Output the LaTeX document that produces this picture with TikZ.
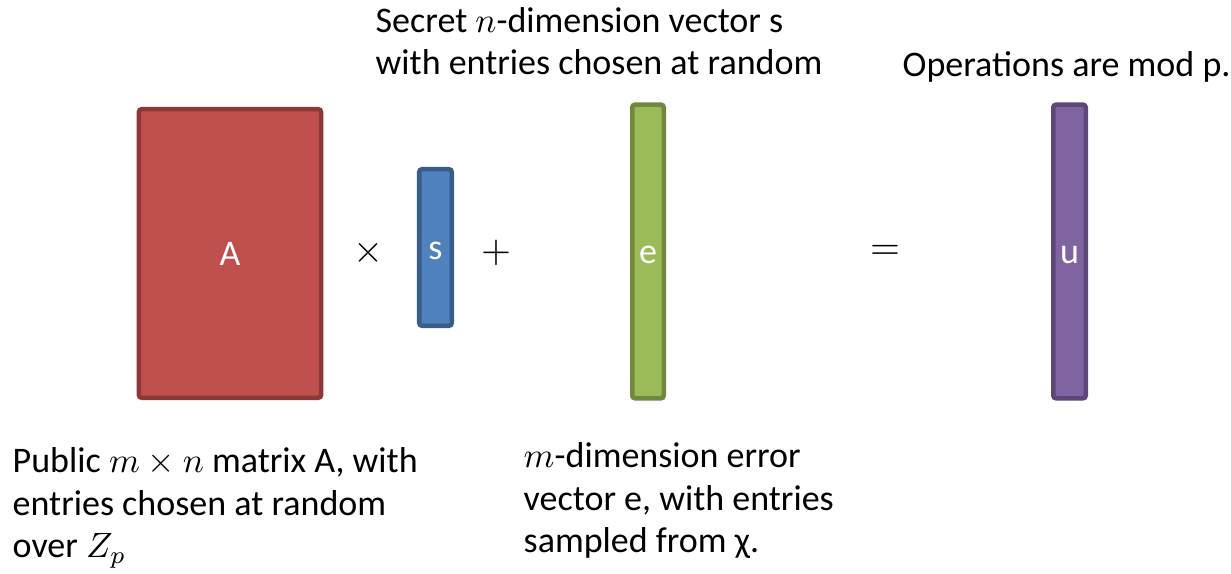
\documentclass[tikz,border=0pt]{standalone}
\usepackage{fontspec}
\setmainfont{Carlito}
\usepackage{tikz}

\definecolor{matfill}{HTML}{C0504D}
\definecolor{matline}{HTML}{8C3836}
\definecolor{secfill}{HTML}{4F81BD}
\definecolor{secline}{HTML}{385D8A}
\definecolor{errfill}{HTML}{9BBB59}
\definecolor{errline}{HTML}{71893F}
\definecolor{resfill}{HTML}{8064A2}
\definecolor{resline}{HTML}{5C4776}

\tikzset{
  txt/.style={font=\fontsize{10.24}{12.1}\selectfont},
  vecbox/.style={draw, line width=1.28pt, rounded corners=0.8pt, inner sep=0pt, text=white,
    text height=0.9em, text depth=0.2em, txt},
  oper/.style={inner sep=0pt, font=\fontsize{10.8}{13}\selectfont},
  note/.style={anchor=base west, align=left, inner sep=0pt, txt},
}

\begin{document}
\begin{tikzpicture}[x=0.01cm,y=-0.01cm]
\useasboundingbox (0,0) rectangle (1231,574);

% A. Matrix A and the three vectors
\node[vecbox, fill=matfill, draw=matline, minimum width=1.82cm, minimum height=2.885cm] (matA) at (230,253.5) {A};
\node[vecbox, fill=secfill, draw=secline, minimum width=0.325cm, minimum height=1.565cm] (vecS) at (435.5,247.5) {s};
\node[vecbox, fill=errfill, draw=errline, minimum width=0.315cm, minimum height=2.935cm] (vecE) at (648,251.5) {e};
\node[vecbox, fill=resfill, draw=resline, minimum width=0.325cm, minimum height=2.935cm] (vecU) at (1069.5,251.5) {u};

% B. Operators between them
\node[oper] (opTimes) at (368,253) {$\times$};
\node[oper] (opPlus) at (496,253) {$+$};
\node[oper] (opEq) at (885,252) {$=$};

% C. Notes above and below (base = last line)
\node[note] (noteS) at (375,75) {Secret $n$-dimension vector s\\with entries chosen at random};
\node[note] (noteOps) at (902,77) {Operations are mod p.};
\node[note] (noteA) at (12,558) {Public $m \times n$ matrix A, with\\entries chosen at random\\over $Z_p$};
\node[note] (noteE) at (523,553) {$m$-dimension error\\vector e, with entries\\sampled from χ.};

\end{tikzpicture}
\end{document}
